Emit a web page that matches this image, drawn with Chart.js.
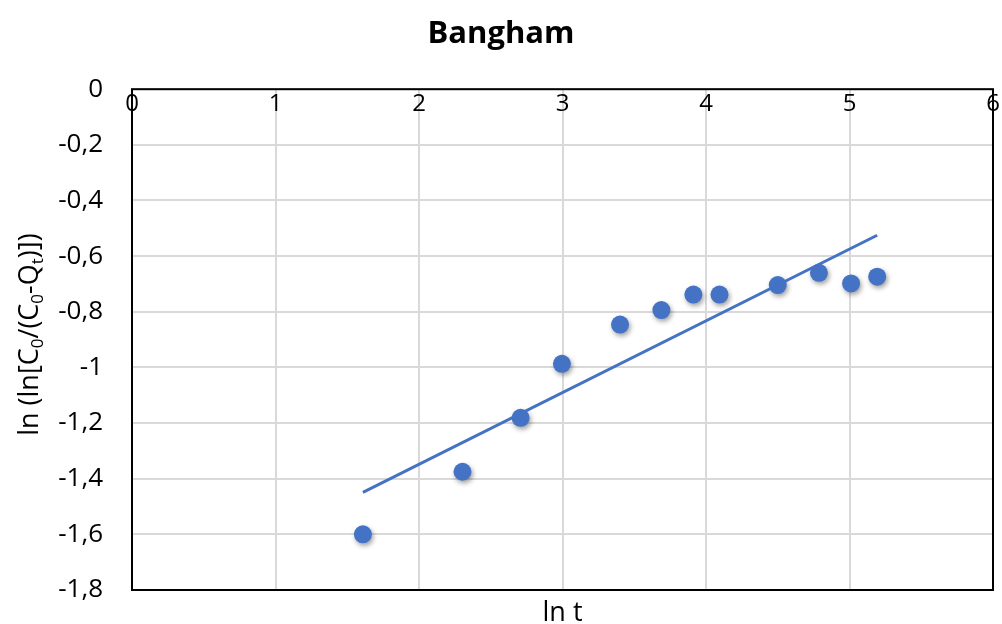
<!DOCTYPE html>
<html>
<head>
<meta charset="utf-8">
<title>Bangham</title>
<script src="https://cdn.jsdelivr.net/npm/chart.js@4/dist/chart.umd.min.js"></script>
<style>
  html, body { margin: 0; padding: 0; background: #ffffff; }
  canvas { display: block; }
</style>
</head>
<body>
<canvas id="chart" width="1002" height="624"></canvas>
<script>
// Measured points: ln t against ln(ln[C0/(C0-Qt)])
const lnT  = [1.609, 2.303, 2.708, 2.996, 3.401, 3.689, 3.912, 4.094, 4.500, 4.787, 5.011, 5.193];
const lnLn = [-1.600, -1.375, -1.181, -0.987, -0.846, -0.794, -0.738, -0.738, -0.704, -0.660, -0.698, -0.674];

// Linear trend line end points
const trendX = [1.609, 5.193];
const trendY = [-1.449, -0.525];

// Axis ticks and their labels
const xTicks = [0, 1, 2, 3, 4, 5, 6];
const yTicks = [0, -0.2, -0.4, -0.6, -0.8, -1, -1.2, -1.4, -1.6, -1.8];
const yTickLabels = ['0', '-0,2', '-0,4', '-0,6', '-0,8', '-1', '-1,2', '-1,4', '-1,6', '-1,8'];

const FONT = "'Open Sans', 'DejaVu Sans', sans-serif";
const BLUE = '#4472C4';
const GRID = '#d9d9d9';

const pointData = lnT.map((x, i) => ({ x: x, y: lnLn[i] }));
const trendData = trendX.map((x, i) => ({ x: x, y: trendY[i] }));

// Black frame around the plot area
const framePlugin = {
  id: 'frame',
  beforeDatasetsDraw(chart) {
    const { ctx, chartArea: a } = chart;
    ctx.save();
    ctx.strokeStyle = '#000000';
    ctx.lineWidth = 2;
    ctx.strokeRect(a.left, a.top, a.right - a.left, a.bottom - a.top);
    ctx.restore();
  }
};

// Soft drop shadow under the markers
const shadowPlugin = {
  id: 'markerShadow',
  beforeDatasetDraw(chart, args) {
    if (args.index !== 1) return;
    const ctx = chart.ctx;
    ctx.save();
    ctx.shadowColor = 'rgba(0,0,0,0.38)';
    ctx.shadowBlur = 5;
    ctx.shadowOffsetX = 1.5;
    ctx.shadowOffsetY = 2.5;
  },
  afterDatasetDraw(chart, args) {
    if (args.index !== 1) return;
    chart.ctx.restore();
  }
};

// Vertical axis title with subscripts
const yTitlePlugin = {
  id: 'yTitle',
  afterDraw(chart) {
    const ctx = chart.ctx;
    const a = chart.chartArea;
    const mainFont = '27px ' + FONT;
    const subFont = '17px ' + FONT;
    const parts = [
      ['ln (ln[C', false], ['0', true], ['/(C', false], ['0', true],
      ['-Q', false], ['t', true], [')])', false]
    ];
    ctx.save();
    let total = 0;
    const widths = parts.map(([t, sub]) => {
      ctx.font = sub ? subFont : mainFont;
      const w = ctx.measureText(t).width;
      total += w;
      return w;
    });
    ctx.translate(28, (a.top + a.bottom) / 2 - 5);
    ctx.rotate(-Math.PI / 2);
    ctx.fillStyle = '#000000';
    ctx.textBaseline = 'alphabetic';
    ctx.textAlign = 'left';
    let x = -total / 2;
    parts.forEach(([t, sub], i) => {
      ctx.font = sub ? subFont : mainFont;
      ctx.fillText(t, x, sub ? 15 : 10);
      x += widths[i];
    });
    ctx.restore();
  }
};

new Chart(document.getElementById('chart'), {
  type: 'scatter',
  data: {
    datasets: [
      {
        label: 'Trend',
        data: trendData,
        showLine: true,
        borderColor: BLUE,
        borderWidth: 3,
        pointRadius: 0,
        fill: false
      },
      {
        label: 'Bangham',
        data: pointData,
        backgroundColor: BLUE,
        borderColor: BLUE,
        borderWidth: 0,
        pointRadius: 9,
        pointHoverRadius: 9
      }
    ]
  },
  options: {
    responsive: false,
    animation: false,
    events: [],
    layout: { padding: 0 },
    plugins: {
      legend: { display: false },
      tooltip: { enabled: false },
      title: {
        display: true,
        text: 'Bangham',
        color: '#000000',
        font: { family: FONT, size: 31, weight: 'bold' },
        padding: { top: 16, bottom: 36 }
      }
    },
    scales: {
      x: {
        type: 'linear',
        position: { y: 0 },
        min: 0,
        max: 6,
        afterBuildTicks(scale) { scale.ticks = xTicks.map(v => ({ value: v })); },
        ticks: {
          color: '#000000',
          font: { family: FONT, size: 24 },
          padding: 1,
          maxRotation: 0,
          autoSkip: false
        },
        grid: { color: GRID, lineWidth: 2, drawTicks: false },
        border: { display: false }
      },
      x2: {
        type: 'linear',
        position: 'bottom',
        min: 0,
        max: 6,
        ticks: { display: false },
        grid: { display: false, drawTicks: false },
        border: { display: false },
        title: {
          display: true,
          text: 'ln t',
          color: '#000000',
          font: { family: FONT, size: 27, lineHeight: 0.8 },
          padding: { top: 0, bottom: 0 }
        },
        afterFit(scale) { scale.height = 34; }
      },
      y: {
        type: 'linear',
        position: 'left',
        min: -1.8,
        max: 0,
        afterBuildTicks(scale) { scale.ticks = yTicks.map(v => ({ value: v })); },
        ticks: {
          color: '#000000',
          font: { family: FONT, size: 26 },
          padding: 0,
          autoSkip: false,
          callback: (value, index) => yTickLabels[index]
        },
        grid: {
          color: GRID,
          lineWidth: 2,
          drawTicks: true,
          tickLength: 29,
          tickColor: 'rgba(0,0,0,0)'
        },
        border: { display: false },
        afterFit(scale) { scale.width = 132; }
      },
      y2: {
        type: 'linear',
        position: 'right',
        min: -1.8,
        max: 0,
        ticks: { display: false },
        grid: { display: false, drawTicks: false },
        border: { display: false },
        afterFit(scale) { scale.width = 9; }
      }
    }
  },
  plugins: [framePlugin, shadowPlugin, yTitlePlugin]
});
</script>
</body>
</html>
